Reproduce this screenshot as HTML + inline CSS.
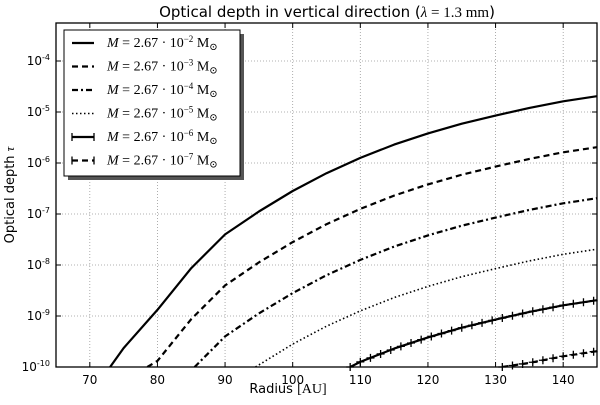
<!DOCTYPE html>
<html><head><meta charset="utf-8"><style>
body{margin:0;background:#fff;}
svg text{font-family:"DejaVu Sans","Liberation Sans",sans-serif;}
.m{font-family:"Liberation Serif","DejaVu Serif",serif;}
</style></head><body>
<svg id="chart" width="600" height="400" viewBox="0 0 600 400">
<text x="327" y="17" text-anchor="middle" font-size="15">Optical depth in vertical direction (<tspan class="m" font-style="italic">λ</tspan><tspan class="m"> = 1.3 mm</tspan>)</text>
<g id="grid"></g>
<g id="series"></g>
<rect x="56" y="23" width="541" height="344" fill="none" stroke="#000" stroke-width="1.3"/>
<g id="ticks"></g>
<text x="288" y="393" text-anchor="middle" font-size="13">Radius <tspan class="m" font-size="14">[AU]</tspan></text>
<text transform="translate(14,195) rotate(-90)" text-anchor="middle" font-size="13">Optical depth <tspan class="m" font-style="italic">τ</tspan></text>
<g id="legend"></g>
</svg>
<script>
const xTicks=[70,80,90,100,110,120,130,140];
const yTicks=[-10,-9,-8,-7,-6,-5,-4];
const radii1=[73,75,80,85,90,95,100,105,110,115,120,125,130,135,140,145];
const s1=[-10,-9.63,-8.88,-8.06,-7.4,-6.95,-6.55,-6.2,-5.9,-5.64,-5.42,-5.23,-5.07,-4.92,-4.79,-4.69];
const radii2=[78.5,80,85,90,95,100,105,110,115,120,125,130,135,140,145];
const s2=[-10,-9.88,-9.06,-8.4,-7.95,-7.55,-7.2,-6.9,-6.64,-6.42,-6.23,-6.07,-5.92,-5.79,-5.69];
const radii3=[85.5,90,95,100,105,110,115,120,125,130,135,140,145];
const s3=[-10,-9.4,-8.95,-8.55,-8.2,-7.9,-7.64,-7.42,-7.23,-7.07,-6.92,-6.79,-6.69];
const radii4=[94.5,100,105,110,115,120,125,130,135,140,145];
const s4=[-10,-9.55,-9.2,-8.9,-8.64,-8.42,-8.23,-8.07,-7.92,-7.79,-7.69];
const radii5=[108.5,110,115,120,125,130,135,140,145];
const s5=[-10,-9.9,-9.64,-9.42,-9.23,-9.07,-8.92,-8.79,-8.69];
const radii6=[131,135,140,145];
const s6=[-10,-9.92,-9.79,-9.69];
const labels=["−2","−3","−4","−5","−6","−7"];
const NS="http://www.w3.org/2000/svg";
const X=r=>56+(r-65)*(541/80);
const Y=l=>367-(l+10)*51;
function mk(t,a,p){const e=document.createElementNS(NS,t);for(const k in a)e.setAttribute(k,a[k]);p.appendChild(e);return e;}
const grid=document.getElementById('grid'),ticks=document.getElementById('ticks');
xTicks.forEach(v=>{const x=X(v);
 const g=mk('line',{x1:x,x2:x,y1:23,y2:367,stroke:'#999','stroke-dasharray':'1,2','stroke-width':0.8},grid);
 
 
 mk('line',{x1:x,x2:x,y1:367,y2:362,stroke:'#000'},ticks);
 mk('line',{x1:x,x2:x,y1:23,y2:28,stroke:'#000'},ticks);
 const t=mk('text',{x:x,y:384,'text-anchor':'middle','font-size':12},ticks);t.textContent=v;
 
 
});
yTicks.forEach(v=>{const y=Y(v);
 if(v>-10){const g=mk('line',{x1:56,x2:597,y1:y,y2:y,stroke:'#999','stroke-dasharray':'1,2','stroke-width':0.8},grid);
 
 }
 mk('line',{x1:56,x2:61,y1:y,y2:y,stroke:'#000'},ticks);
 mk('line',{x1:597,x2:592,y1:y,y2:y,stroke:'#000'},ticks);
 const t=mk('text',{x:50,y:y+4,'text-anchor':'end','font-size':12},ticks);
 t.innerHTML='10<tspan dy="-5" font-size="8">'+v+'</tspan>';
 
 
});
const styles=[{d:''},{d:'6,4'},{d:'6,3,2,3'},{d:'1.5,2.5',w:1.6},{d:'',plus:1},{d:'6,4',plus:1}];
const all=[[radii1,s1],[radii2,s2],[radii3,s3],[radii4,s4],[radii5,s5],[radii6,s6]];
const ser=document.getElementById('series');
const cp=mk('clipPath',{id:'cp'},ser);mk('rect',{x:56,y:23,width:541,height:344},cp);
all.forEach((s,i)=>{const st=styles[i];
 const pts=s[0].map((r,j)=>X(r).toFixed(1)+','+Y(s[1][j]).toFixed(1)).join(' ');
 const p=mk('polyline',{points:pts,fill:'none',stroke:'#000','stroke-width':st.w||2.2,'stroke-dasharray':st.d,'clip-path':'url(#cp)','stroke-linejoin':'round'},ser);
 
 
 if(st.plus){const r=s[0],v=s[1];
  for(let q=r[0];q<=145;q+=1.5){let j=0;while(j<r.length-2&&r[j+1]<q)j++;
   const l=v[j]+(v[j+1]-v[j])*(q-r[j])/(r[j+1]-r[j]);const x=X(q),y=Y(l);
   const m=mk('path',{d:`M${x-4},${y}h8M${x},${y-4}v8`,stroke:'#000','stroke-width':1.3},ser);
   
   }}
});
const lg=document.getElementById('legend');
mk('rect',{x:68,y:34,width:176,height:146,fill:'#555'},lg);
const box=mk('rect',{x:64,y:30,width:176,height:146,fill:'#fff',stroke:'#000','stroke-width':1},lg);


labels.forEach((e,i)=>{const y=43+i*23.5,st=styles[i];
 const l=mk('line',{x1:72,x2:94,y1:y,y2:y,stroke:'#000','stroke-width':st.w||2.2,'stroke-dasharray':st.d},lg);
 
 
 if(st.plus){mk('path',{d:`M${72},${y-4}v8M${94},${y-4}v8`,stroke:'#000','stroke-width':1.3},lg);}
 const t=mk('text',{x:107,y:y+4,'font-size':14,class:'m'},lg);
 t.innerHTML='<tspan font-style="italic">M</tspan> = 2.67  · 10<tspan dy="-5" font-size="9">'+e+'</tspan><tspan dy="5"> M</tspan><tspan dy="3" font-size="10">⊙</tspan>';
 t.setAttribute('xml:space','preserve');
 
 
});
</script>
</body></html>
